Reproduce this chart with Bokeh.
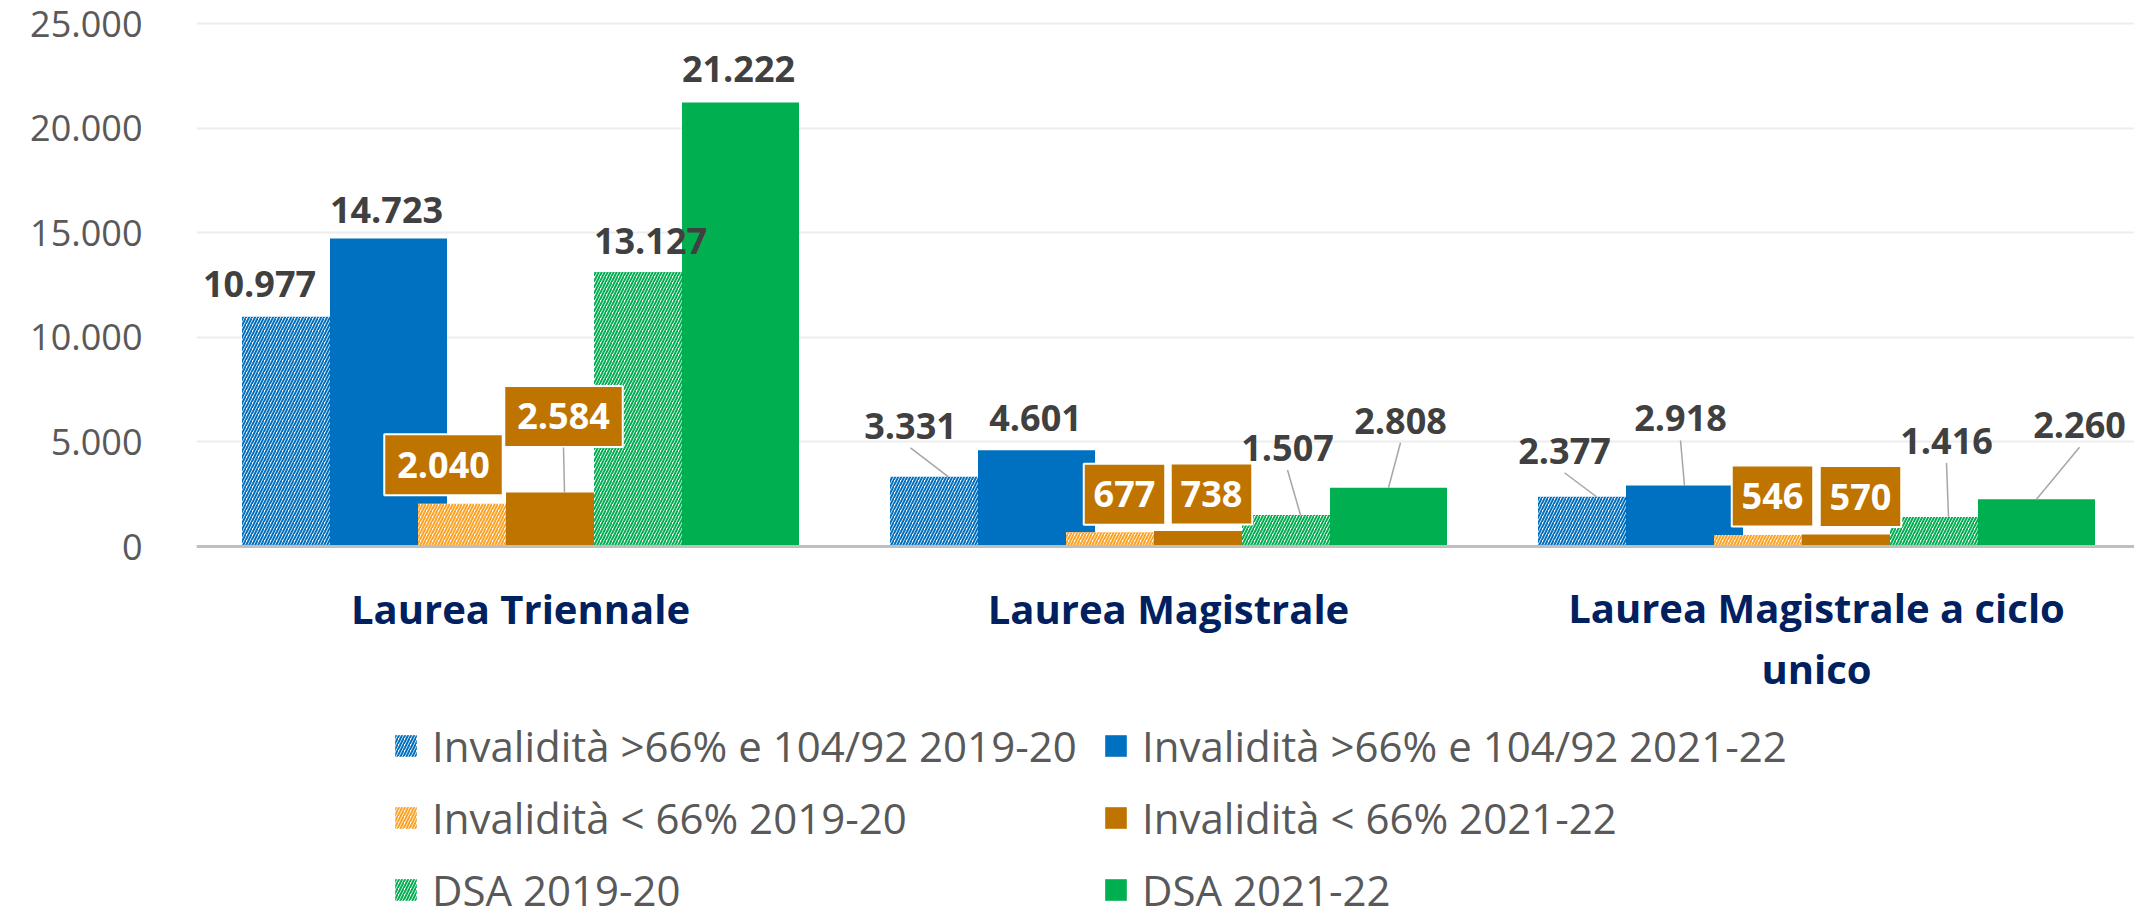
from bokeh.plotting import figure
from bokeh.models import Range1d, FixedTicker, Legend, LegendItem, Span
from bokeh.core.properties import value
from bokeh.embed import file_html
from bokeh.resources import INLINE

# ---------------- data ----------------
categories = ["Laurea Triennale", "Laurea Magistrale", "Laurea Magistrale a ciclo unico"]
category_lines = ["Laurea Triennale", "Laurea Magistrale", "Laurea Magistrale a ciclo\nunico"]
series_names = [
    "Invalidità >66% e 104/92 2019-20",
    "Invalidità >66% e 104/92 2021-22",
    "Invalidità < 66% 2019-20",
    "Invalidità < 66% 2021-22",
    "DSA 2019-20",
    "DSA 2021-22",
]
inv66_1920 = [10977, 3331, 2377]
inv66_2122 = [14723, 4601, 2918]
invlt66_1920 = [2040, 677, 546]
invlt66_2122 = [2584, 738, 570]
dsa_1920 = [13127, 1507, 1416]
dsa_2122 = [21222, 2808, 2260]
y_ticks = [0, 5000, 10000, 15000, 20000, 25000]

series_values = [inv66_1920, inv66_2122, invlt66_1920, invlt66_2122, dsa_1920, dsa_2122]

# ---------------- styles ----------------
BLUE = "#0070C0"
ORANGE = "#BF7400"
ORANGE_LIGHT = "#FFA21F"
GREEN = "#00B050"
LABEL_GRAY = "#404040"
AXIS_GRAY = "#595959"
NAVY = "#002060"
FONT = "Open Sans"

series_style = [
    dict(fill_color="white", hatch_pattern="/", hatch_color=BLUE),
    dict(fill_color=BLUE, hatch_pattern=None, hatch_color=BLUE),
    dict(fill_color="white", hatch_pattern="/", hatch_color=ORANGE_LIGHT),
    dict(fill_color=ORANGE, hatch_pattern=None, hatch_color=ORANGE),
    dict(fill_color="white", hatch_pattern="/", hatch_color=GREEN),
    dict(fill_color=GREEN, hatch_pattern=None, hatch_color=GREEN),
]
label_kind = ["plain", "plain", "box", "box", "plain", "plain"]

# label offsets in screen px from the bar top centre (dx right, dy up), and leader flag
label_offsets = [
    [(-41, 33, False), (-38, 51, True), (-32, 46, True)],
    [(-2, 28, False), (-1, 32, False), (-4, 67, True)],
    [(-33, 39, False), (0, 38, False), (0, 39, False)],
    [(-1, 76, True), (-1, 37, False), (0, 38, False)],
    [(-2, 31, False), (-13, 67, True), (-2, 76, True)],
    [(-2, 34, False), (12, 67, True), (43, 74, True)],
]

# ---------------- layout ----------------
W, H = 2134, 919
LEFT, TOP = 196, 10
BASE_Y = 546            # screen y of the zero line
PX_PER_Y = 523.0 / 25000.0
Y_END = (BASE_Y - TOP) / PX_PER_Y
Y_START = -(H - BASE_Y) / PX_PER_Y
CAT_PX = 648.0
X_END = (W - LEFT) / CAT_PX
STEP = 88.0 / CAT_PX
BAR_W = 117.0 / CAT_PX
CAT_LABEL_DY = 61.5     # px below the zero line (centre of first line)
CAT_LINE_PX = 59.5

p = figure(
    width=W, height=H, output_backend="svg", toolbar_location=None,
    x_range=Range1d(0, X_END), y_range=Range1d(Y_START, Y_END),
    min_border_left=LEFT, min_border_top=TOP, min_border_bottom=0,
    min_border_right=0,
)
p.outline_line_color = None
p.background_fill_color = "white"
p.border_fill_color = "white"
p.xaxis.visible = False

# y axis
p.yaxis.ticker = FixedTicker(ticks=y_ticks)
p.yaxis.major_label_overrides = {t: f"{t:,}".replace(",", ".") for t in y_ticks}
p.yaxis.axis_line_color = None
p.yaxis.major_tick_line_color = None
p.yaxis.minor_tick_line_color = None
p.yaxis.major_label_standoff = 48
p.yaxis.major_label_text_font = FONT
p.yaxis.major_label_text_font_size = "36px"
p.yaxis.major_label_text_color = AXIS_GRAY

p.ygrid.ticker = FixedTicker(ticks=y_ticks)
p.ygrid.grid_line_color = "#EDEDED"
p.ygrid.grid_line_width = 2
p.xgrid.grid_line_color = None

centers = [i + 0.5 for i in range(len(categories))]

# bars
renderers = []
for s, vals in enumerate(series_values):
    xs = [c + (s - 2.5) * STEP for c in centers]
    st = series_style[s]
    kw = dict(x=xs, top=vals, width=BAR_W, bottom=0, line_color=None,
              fill_color=st["fill_color"])
    if st["hatch_pattern"]:
        kw.update(hatch_pattern=st["hatch_pattern"], hatch_color=st["hatch_color"],
                  hatch_scale=6, hatch_weight=2)
    r = p.vbar(**kw)
    renderers.append(r)

# zero line (category axis line)
p.add_layout(Span(location=0, dimension="width", line_color="#BFBFBF", line_width=3))

# category labels
cat_y = [-(CAT_LABEL_DY + (t.count("\n")) * CAT_LINE_PX / 2) / PX_PER_Y for t in category_lines]
p.text(x=centers, y=cat_y, text=category_lines, text_align="center",
       text_baseline="middle", text_font=value(FONT), text_font_style="bold",
       text_font_size="40px", text_color=NAVY, text_line_height=1.1)

# labels, leaders and boxes
for s, vals in enumerate(series_values):
    for c_i, v in enumerate(vals):
        bx = centers[c_i] + (s - 2.5) * STEP
        dx, dy, leader = label_offsets[s][c_i]
        lx = bx + dx / CAT_PX
        ly = v + dy / PX_PER_Y
        txt = f"{v:,}".replace(",", ".")
        if label_kind[s] == "box":
            bw = 26 + 18.5 * len(txt)
            p.rect(x=[lx], y=[ly], width=bw, height=61, width_units="screen",
                   height_units="screen", fill_color=ORANGE, line_color="white",
                   line_width=2)
            if leader:
                p.segment(x0=[lx], y0=[ly - 31 / PX_PER_Y], x1=[bx], y1=[v],
                          line_color="#A6A6A6", line_width=1.5)
            p.text(x=[lx], y=[ly], text=[txt], text_align="center",
                   text_baseline="middle", text_font=value(FONT),
                   text_font_style="bold", text_font_size="36px", text_color="white")
        else:
            if leader:
                p.segment(x0=[lx], y0=[ly - 22 / PX_PER_Y], x1=[bx], y1=[v],
                          line_color="#A6A6A6", line_width=1.5)
            p.text(x=[lx], y=[ly], text=[txt], text_align="center",
                   text_baseline="middle", text_font=value(FONT),
                   text_font_style="bold", text_font_size="36px",
                   text_color=LABEL_GRAY)

# legend (inside the lower part of the frame)
items = [LegendItem(label=n, renderers=[r]) for n, r in zip(series_names, renderers)]
legend = Legend(
    items=items, location=(196, 1), orientation="horizontal", ncols=2,
    glyph_width=27, glyph_height=27, label_standoff=13, spacing=15,
    label_width=655, padding=0, margin=0, border_line_color=None,
    background_fill_alpha=0, label_text_font=FONT, label_text_font_size="42px",
    label_text_color=AXIS_GRAY,
)
p.add_layout(legend, "center")

open("out.html", "w").write(file_html(p, INLINE))
